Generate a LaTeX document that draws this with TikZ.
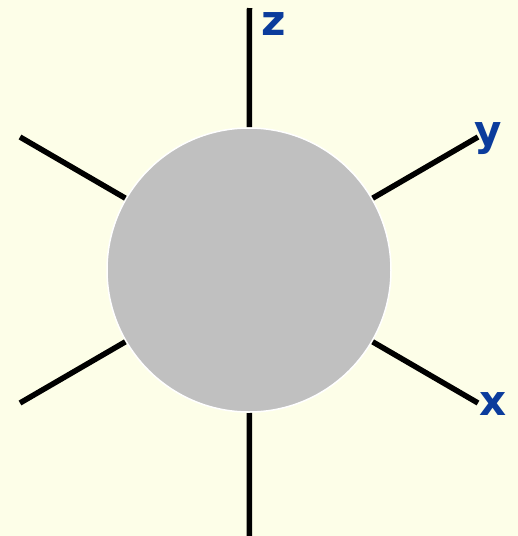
\documentclass[tikz,border=0pt]{standalone}
\usepackage{fontspec}
\setmainfont{DejaVu Sans}
\definecolor{bg}{HTML}{FDFEE8}
\definecolor{ball}{HTML}{C0C0C0}
\definecolor{lbl}{HTML}{0B3C9C}
\begin{document}
\begin{tikzpicture}[x=1pt,y=-1pt,
  axis/.style={line width=5.5pt,black},
  lab/.style={text=lbl,font=\fontsize{42}{42}\selectfont\bfseries,inner sep=0pt}]
\fill[bg] (0,0) rectangle (518,536);
\useasboundingbox (0,0) rectangle (518,536);
\node[circle,fill=ball,draw=white,line width=1.5pt,minimum size=284pt,inner sep=0pt,outer sep=1pt] (c) at (249,270) {};
\coordinate (zt) at (249.5,8);
\coordinate (zb) at (249.5,540);
\coordinate (ul) at (20,137);
\coordinate (ur) at (478,137);
\coordinate (ll) at (20,403);
\coordinate (lr) at (478,403);
\draw[axis] (c) -- (zt);
\draw[axis] (c) -- (zb);
\draw[axis] (c) -- (ul);
\draw[axis] (c) -- (ur);
\draw[axis] (c) -- (ll);
\draw[axis] (c) -- (lr);
\node[lab] (z) at (274,24) {z};
\node[lab] (y) at (488,139) {y};
\node[lab] (x) at (493,404) {x};
\end{tikzpicture}
\end{document}
